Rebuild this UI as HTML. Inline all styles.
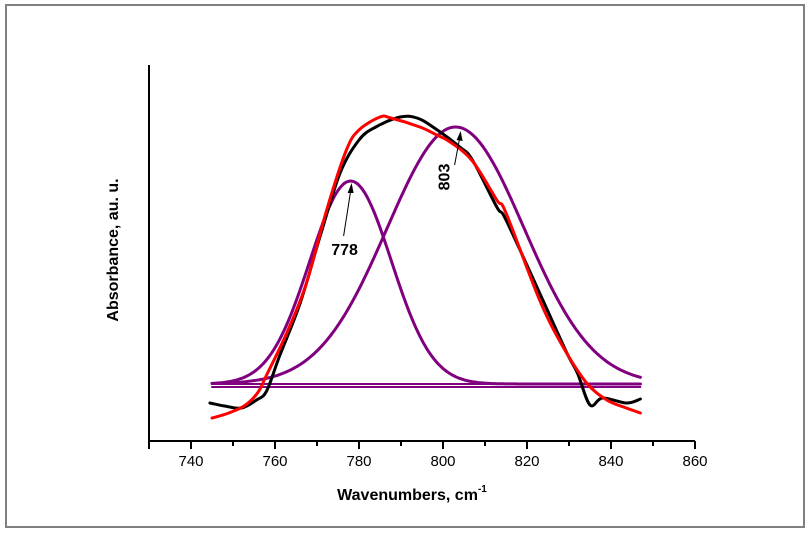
<!DOCTYPE html>
<html><head><meta charset="utf-8"><style>
body{margin:0;background:#fff;}
svg{display:block;font-family:"Liberation Sans",Arial,sans-serif;}
</style></head><body>
<svg id="chart" width="810" height="533" viewBox="0 0 810 533" xmlns="http://www.w3.org/2000/svg">
<rect x="6" y="5" width="798" height="522" fill="#fff" stroke="#808080" stroke-width="2"/>
<g id="plot"></g>
<g id="axes"></g>
<text transform="translate(118,250) rotate(-90)" text-anchor="middle" font-size="16" font-weight="bold">Absorbance, au. u.</text>
<text x="412" y="500" text-anchor="middle" font-size="16" font-weight="bold">Wavenumbers, cm<tspan font-size="10" dy="-8">-1</tspan></text>
</svg>
<script>
const xTicks=[730,740,750,760,770,780,790,800,810,820,830,840,850,860];
const xTickLabels=["740","760","780","800","820","840","860"];
const blackX=[744.5,748,752,755.6,758,761,766,770.7,775.5,780,784,789.8,793.8,797.6,804,807,812.8,815,823,829.5,832,835,838,843.7,847];
const blackY=[38,35,33,41,50,84,138,204,268,301,314,324,323,314,294,281,234,221,148,88,68,36,43,38,42];
const redX=[745,749,753,756,758,762.8,767.5,772.3,777,780,785,787.6,794.5,798.5,801.7,807,812.8,815,823,828.6,834.2,839,843,847];
const redY=[23,28,36,49,66,108,158,231,291,311,324,323,314,306,299,280,241,228,141,94,58,41,34,28];
const peakCenters=[778,803];
const peakHeights=[203,257];
const peakWidths=[9.7,16.3];
const baseline1=57;
const baseline2=54;
const fitRange=[745,847];
const annotations=["778","803"];

const NS="http://www.w3.org/2000/svg";
const X0=149,X1=695,Y0=441,Y1=65,xMin=730,xMax=860,yMin=0,yMax=376;
function sx(v){return X0+(v-xMin)/(xMax-xMin)*(X1-X0);}
function sy(v){return Y0-(v-yMin)/(yMax-yMin)*(Y0-Y1);}
const plot=document.getElementById('plot'),axes=document.getElementById('axes');
function mk(tag,attrs,parent){const e=document.createElementNS(NS,tag);for(const k in attrs)e.setAttribute(k,attrs[k]);parent.appendChild(e);return e;}
function smoothPath(xs,ys){
  const P=xs.map((x,i)=>[sx(x),sy(ys[i])]);
  let d='M'+P[0][0].toFixed(1)+' '+P[0][1].toFixed(1);
  for(let i=0;i<P.length-1;i++){
    const p0=P[Math.max(0,i-1)],p1=P[i],p2=P[i+1],p3=P[Math.min(P.length-1,i+2)];
    const c1=[p1[0]+(p2[0]-p0[0])/6,p1[1]+(p2[1]-p0[1])/6];
    const c2=[p2[0]-(p3[0]-p1[0])/6,p2[1]-(p3[1]-p1[1])/6];
    d+=` C${c1[0].toFixed(1)} ${c1[1].toFixed(1)} ${c2[0].toFixed(1)} ${c2[1].toFixed(1)} ${p2[0].toFixed(1)} ${p2[1].toFixed(1)}`;
  }
  return d;
}
function poly(xs,ys,color,w,name){
  const p=mk('path',{d:smoothPath(xs,ys),fill:'none',stroke:color,'stroke-width':w,'stroke-linejoin':'round','stroke-linecap':'round'},plot);
  
  
}
function gauss(x,i){const d=x-peakCenters[i];return peakHeights[i]*Math.exp(-d*d/(2*peakWidths[i]*peakWidths[i]));}
const gx=[];for(let x=fitRange[0];x<=fitRange[1]+0.01;x+=0.5)gx.push(x);
const purple="#800080";
poly([fitRange[0],fitRange[1]],[baseline1,baseline1],purple,2,'baseline-1');
poly([fitRange[0],fitRange[1]],[baseline2,baseline2],purple,2,'baseline-2');
poly(gx,gx.map(x=>baseline1+gauss(x,0)),purple,3,'peak-778-curve');
poly(gx,gx.map(x=>baseline1+gauss(x,1)),purple,3,'peak-803-curve');
poly(blackX,blackY,'#000',3,'experimental-curve');
poly(redX,redY,'#ff0000',3,'fitted-curve');
let a=mk('line',{x1:X0,y1:Y1,x2:X0,y2:Y0+1,stroke:'#000','stroke-width':2},axes);

a=mk('line',{x1:X0-1,y1:Y0,x2:X1,y2:Y0,stroke:'#000','stroke-width':2},axes);

xTicks.forEach((t,i)=>{
  const major=(i%2===1)||i===xTicks.length-1||i===0;
  const l=mk('line',{x1:sx(t),y1:Y0,x2:sx(t),y2:Y0+(major?8:5),stroke:'#000','stroke-width':2},axes);
  
  
});
xTickLabels.forEach(s=>{
  const t=mk('text',{x:sx(+s),y:466,'text-anchor':'middle','font-size':15},axes);
  t.textContent=s;
  
  
});
const t1=mk('text',{x:sx(peakCenters[0])-6,y:255,'text-anchor':'middle','font-size':16,'font-weight':'bold'},plot);
t1.textContent=annotations[0];


const ax1=sx(peakCenters[0]), ay1=sy(baseline1+peakHeights[0]);
const l1=mk('line',{x1:ax1-7,y1:236,x2:ax1+1,y2:ay1+4,stroke:'#000','stroke-width':1},plot);


const h1=mk('path',{d:`M${ax1+1} ${ay1+2} L${ax1-3} ${ay1+12} L${ax1+3} ${ay1+12} Z`,fill:'#000'},plot);


const ax2=sx(peakCenters[1]), ay2=sy(baseline1+peakHeights[1]);
const t2=mk('text',{transform:`translate(${ax2-6},${ay2+50}) rotate(-90)`,'text-anchor':'middle','font-size':16,'font-weight':'bold'},plot);
t2.textContent=annotations[1];


const l2=mk('line',{x1:ax2-1,y1:ay2+38,x2:ax2+5,y2:ay2+6,stroke:'#000','stroke-width':1},plot);


const h2=mk('path',{d:`M${ax2+5} ${ay2+4} L${ax2+1} ${ay2+13} L${ax2+7} ${ay2+14} Z`,fill:'#000'},plot);


</script>
</body></html>
